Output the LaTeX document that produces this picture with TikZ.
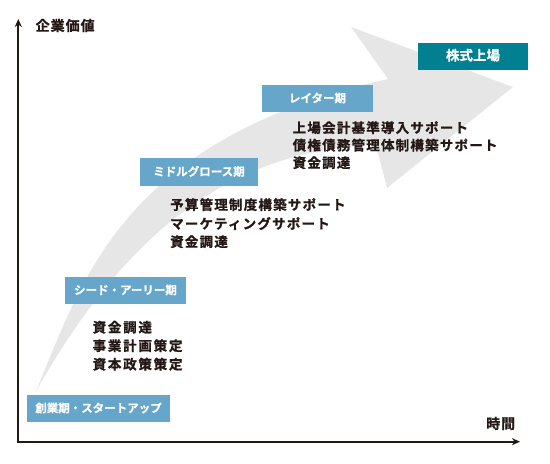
\documentclass[tikz,border=0pt]{standalone}
\usepackage{fontspec}
\usetikzlibrary{arrows.meta}
\newfontfamily\jpfont{Noto Sans CJK JP}[BoldFont={Noto Sans CJK JP Bold}, BoldFeatures={FakeBold=0.6}]
\newfontfamily\jpbody{Noto Sans CJK JP}[BoldFont={Noto Sans CJK JP Bold}, BoldFeatures={FakeBold=1}, LetterSpace=9]
\newfontfamily\jpseed{Noto Sans CJK JP}[BoldFont={Noto Sans CJK JP Bold}, BoldFeatures={FakeBold=1}, LetterSpace=13]
\newfontfamily\jpaxis{Noto Sans CJK JP}[BoldFont={Noto Sans CJK JP Bold}, BoldFeatures={FakeBold=1}, LetterSpace=7]
\definecolor{bandgray}{HTML}{E6E6E6}
\definecolor{stageblue}{HTML}{66A6CA}
\definecolor{ipoteal}{HTML}{008091}
\definecolor{inkdark}{HTML}{231815}
\tikzset{
  axisline/.style={draw=inkdark, line width=1.8pt, line join=miter, {Stealth[length=8pt,width=7pt]}-{Stealth[length=8pt,width=7pt]}},
  axislabel/.style={font=\jpaxis\bfseries\fontsize{14}{14}\selectfont, text=inkdark, inner sep=0pt, text height=0.88em, text depth=0.12em},
  stagebox/.style={fill=stageblue, text=white, inner sep=0pt, minimum height=27pt, font=\jpfont\bfseries\fontsize{11.5}{12}\selectfont, text height=0.88em, text depth=0.12em},
  ipobox/.style={stagebox, fill=ipoteal, font=\jpfont\bfseries\fontsize{13.5}{14}\selectfont},
  bodyline/.style={font=\jpbody\bfseries\fontsize{13.5}{14}\selectfont, text=inkdark, inner sep=0pt, anchor=west, text height=0.88em, text depth=0.12em},
  seedline/.style={bodyline, font=\jpseed\bfseries\fontsize{13.5}{14}\selectfont}
}
\begin{document}
\begin{tikzpicture}[x=1pt,y=-1pt]
\useasboundingbox (0,0) rectangle (550,464);
% big gray curved arrow
\fill[bandgray] (35,393) .. controls (80,290) and (115,140) .. (388,79)
  -- (351,27) -- (513,87) -- (387,188) -- (376,145)
  .. controls (210,150) and (110,260) .. (35,393) -- cycle;
% axes
\coordinate (ytip) at (18.3,19);
\coordinate (origin) at (18.3,441.7);
\coordinate (xtip) at (520,441.7);
\draw[axisline] (ytip) -- (origin) -- (xtip);
\node[axislabel, anchor=west] (ylabel) at (35.5,27) {企業価値};
\node[axislabel, anchor=west] (xlabel) at (486,425) {時間};
% stage boxes
\node[stagebox, minimum width=143pt] (startup) at (98.5,408.5) {創業期・スタートアップ};
\node[stagebox, minimum width=121pt] (seed) at (125.5,290.5) {シード・アーリー期};
\node[stagebox, minimum width=118pt, minimum height=28pt] (middle) at (199,172) {ミドルグロース期};
\node[stagebox, minimum width=111pt] (later) at (317.5,98.5) {レイター期};
\node[ipobox, minimum width=110pt] (ipo) at (473,56.5) {株式上場};
% seed texts
\node[seedline] (seed1) at (92.5,328.5) {資金調達};
\node[seedline] (seed2) at (92.5,347) {事業計画策定};
\node[seedline] (seed3) at (92.5,365.5) {資本政策策定};
% middle texts
\node[bodyline] (mid1) at (170,206) {予算管理制度構築サポート};
\node[bodyline] (mid2) at (170,225) {マーケティングサポート};
\node[bodyline] (mid3) at (170,243) {資金調達};
% later texts
\node[bodyline] (lat1) at (292.5,129) {上場会計基準導入サポート};
\node[bodyline] (lat2) at (292.5,146.5) {債権債務管理体制構築サポート};
\node[bodyline] (lat3) at (292.5,164) {資金調達};
\end{tikzpicture}
\end{document}
